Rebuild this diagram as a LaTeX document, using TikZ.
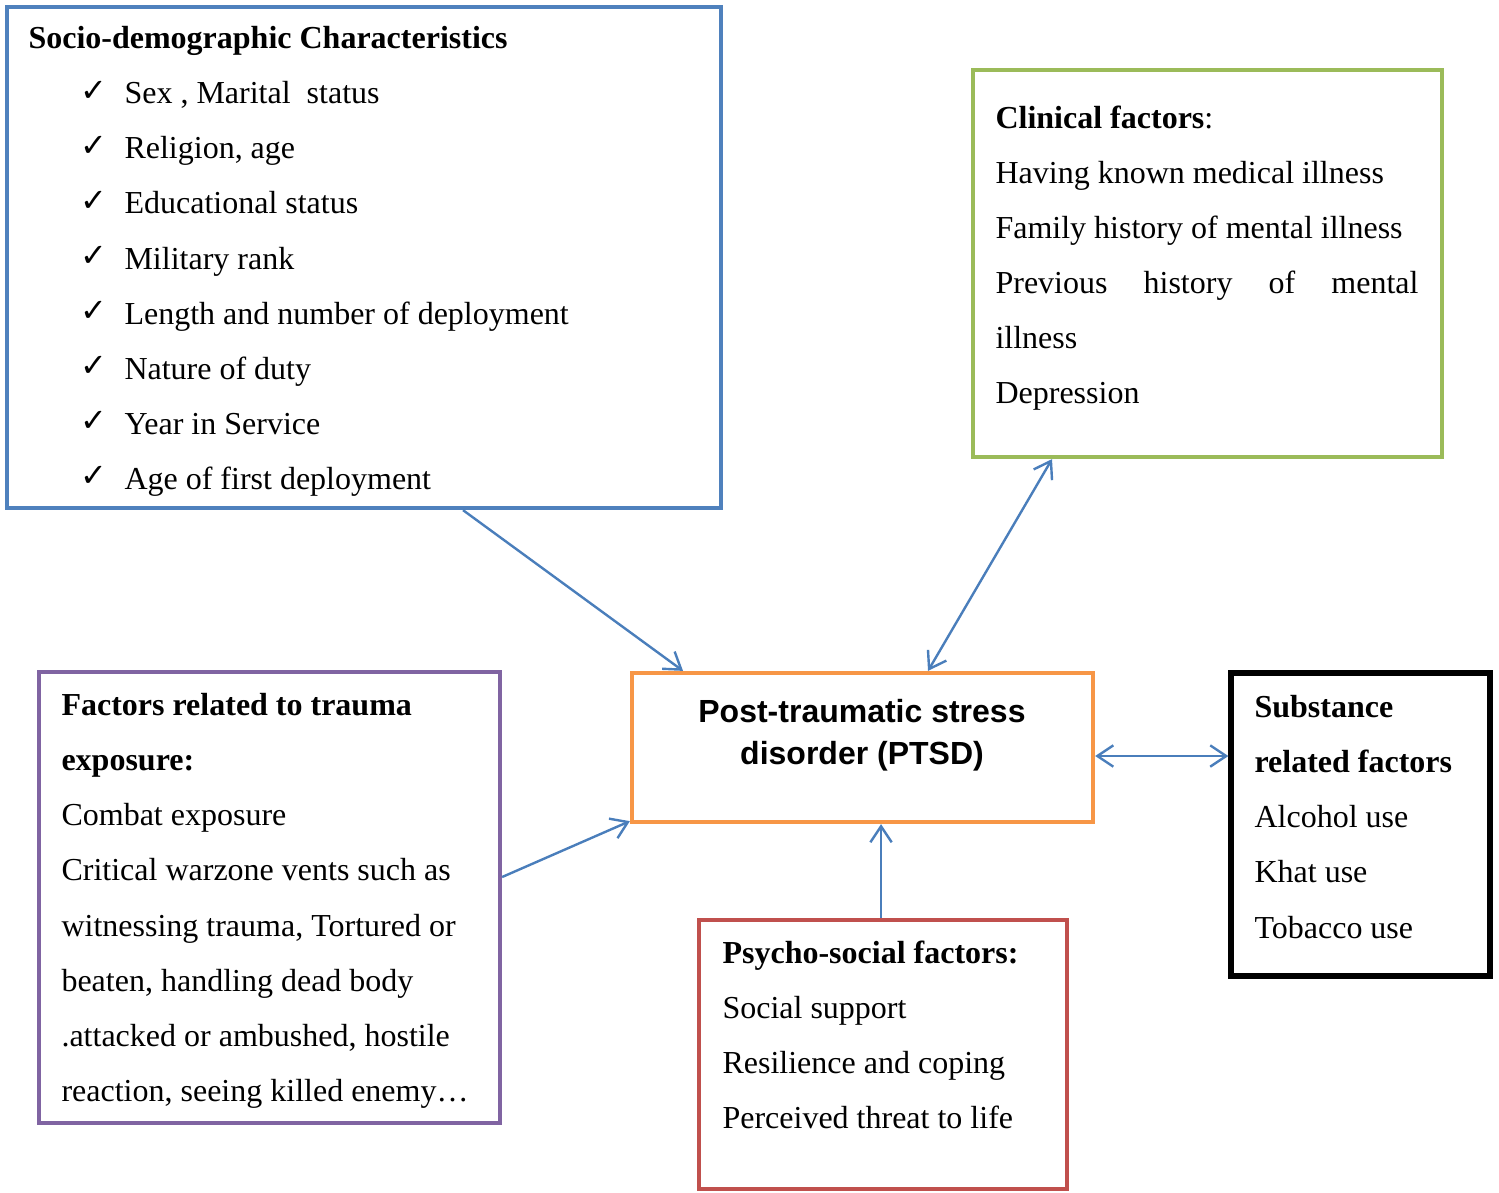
\documentclass[tikz,border=0pt]{standalone}
\usepackage{fontspec}
\setmainfont{Liberation Serif}
\newfontfamily\headfont{Liberation Sans}
\newfontfamily\symfont{DejaVu Sans}
\usetikzlibrary{positioning, fit, calc, arrows.meta}
\definecolor{socioblue}{HTML}{4F81BD}
\definecolor{clingreen}{HTML}{9BBB59}
\definecolor{ptsdorange}{HTML}{F79646}
\definecolor{traumapurple}{HTML}{8064A2}
\definecolor{psychored}{HTML}{C0504D}
\definecolor{linkblue}{HTML}{4A7EBB}
\newcommand{\chk}{\hspace*{19.5pt}\makebox[16.5pt][l]{\raisebox{1pt}{\symfont\fontsize{12}{12}\selectfont ✓}}}

\begin{document}
\begin{tikzpicture}[x=0.375pt,y=-0.375pt,>={Straight Barb[length=6pt,width=8pt]},font=\fontsize{12}{20.65}\selectfont]
        \tikzstyle{box}=[draw, line width=1.6pt, inner sep=0pt]
        \tikzstyle{txt}=[anchor=north west, align=flush left, inner sep=0pt]
        \tikzstyle{link}=[draw=linkblue, line width=0.9pt]
        \useasboundingbox (0,0) rectangle (1499,1192);
        \node[box, socioblue,    fit={(7,7) (721,508)}]       (0) {};
        \node[box, clingreen,    fit={(973,70) (1442,457)}]   (1) {};
        \node[box, ptsdorange,   fit={(632,673) (1093,822)}]  (2) {};
        \node[box, black, line width=2pt, fit={(1231,673) (1490,976)}] (3) {};
        \node[box, traumapurple, fit={(39,672) (500,1123)}]   (4) {};
        \node[box, psychored,    fit={(699,920) (1067,1189)}] (5) {};
        \node[txt] (t0) at (28,26) {\textbf{Socio-demographic Characteristics}\\
            \chk Sex , Marital\ \ status\\
            \chk Religion, age\\
            \chk Educational status\\
            \chk Military rank\\
            \chk Length and number of deployment\\
            \chk Nature of duty\\
            \chk Year in Service\\
            \chk Age of first deployment};
        \node[txt, text width=158.6pt] (t1) at (995,105) {\textbf{Clinical factors}:\\
            Having known medical illness\\
            Family history of mental illness\\
            Previous\hfill history\hfill of\hfill mental\\
            illness\\
            Depression};
        \node[anchor=north, align=center, inner sep=0pt, font=\headfont\bfseries\fontsize{12}{15.75}\selectfont] (t2) at (862,699) {Post-traumatic stress\\ disorder (PTSD)};
        \node[txt] (t3) at (1254,695) {\textbf{Substance}\\
            \textbf{related factors}\\
            Alcohol use\\
            Khat use\\
            Tobacco use};
        \node[txt] (t4) at (61,693) {\textbf{Factors related to trauma}\\
            \textbf{exposure:}\\
            Combat exposure\\
            Critical warzone vents such as\\
            witnessing trauma, Tortured or\\
            beaten, handling dead body\\
            .attacked or ambushed, hostile\\
            reaction, seeing killed enemy…};
        \node[txt] (t5) at (722,940) {\textbf{Psycho-social factors:}\\
            Social support\\
            Resilience and coping\\
            Perceived threat to life};
        \draw[link,->]  ($(0.south)+(99,0)$) -- ($(2.north)+(-179.5,0)$);
        \draw[link,<->] ($(2.north)+(65.5,0)$) -- ($(1.south)+(-155.5,0)$);
        \draw[link,<->] ($(2.east)+(0,8.5)$) -- ($(3.west)+(0,-68.5)$);
        \draw[link,->]  ($(5.north)+(-2,0)$) -- ($(5.north |- 2.south)+(-2,0)$);
        \draw[link,->]  ($(4.east)+(0,-20.5)$) -- ($(2.south west)+(0,-3)$);
    \end{tikzpicture}
\end{document}
